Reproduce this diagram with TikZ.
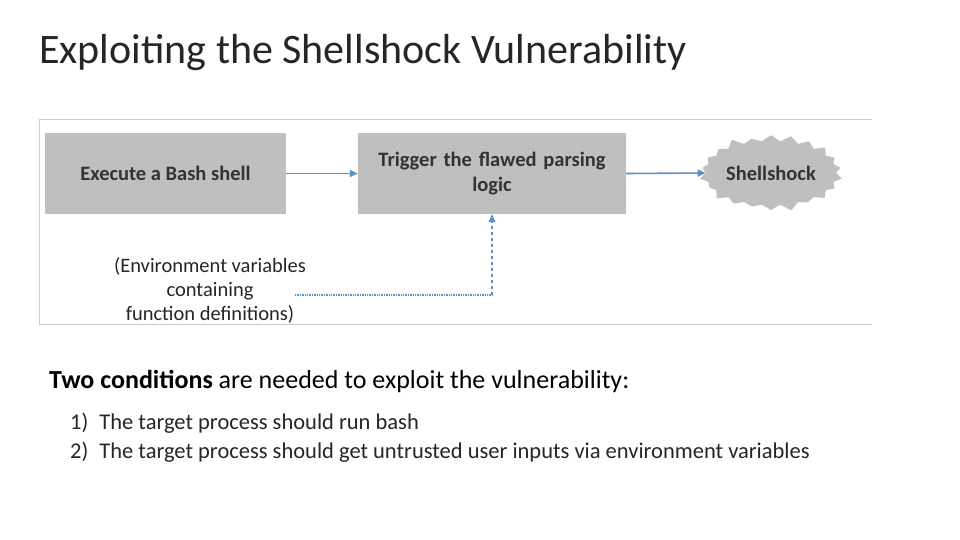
\documentclass[tikz,border=0pt]{standalone}
\usepackage{fontspec}
\setmainfont{Carlito}
\usetikzlibrary{shapes.symbols,arrows.meta}
\definecolor{ablue}{RGB}{91,145,200}
\begin{document}
\begin{tikzpicture}[x=1pt,y=-1pt,
 box/.style={fill=black!25,draw=none,inner sep=0pt,text=black!80,font=\bfseries\fontsize{20.5}{25}\selectfont,align=center},
 arr/.style={draw=ablue,line width=1.6pt,-{Triangle[length=8pt,width=7pt]}}]
\useasboundingbox (0,0) rectangle (960,540);
\fill[white] (0,0) rectangle (960,540);
\node[anchor=west,font=\fontsize{42}{48}\selectfont,text=black!85,inner sep=0pt] (title) at (39,53) {Exploiting the Shellshock Vulnerability};
\draw[black!20,line width=0.8pt] (872,119) -- (39,119) -- (39,324) -- (872,324);
\node[box,minimum width=241pt,minimum height=81pt] (b1) at (165.5,173.5) {Execute a Bash shell};
\node[box,minimum width=268pt,minimum height=81pt,text width=250pt] (b2) at (492,173.5) {Trigger the flawed parsing\\logic};
\node[starburst,starburst points=22,starburst point height=8pt,fill=black!25,draw=none,minimum width=146pt,minimum height=80pt,font=\bfseries\fontsize{20.5}{25}\selectfont,text=black!80,inner sep=0pt] (s) at (771,173) {Shellshock};
\draw[arr] (b1.east) -- (b2.west);
\draw[arr] (b2.east) -- (s.west);
\node[font=\fontsize{20.5}{24}\selectfont,text=black!85,align=center] (env) at (210,290) {(Environment variables\\containing\\function definitions)};
\coordinate (c1) at (295,295);
\coordinate (c2) at (492,295);
\draw[draw=ablue,line width=1.4pt,densely dotted] (c1) -- (c2);
\draw[draw=ablue,line width=1.2pt,dashed,-{Triangle[length=8pt,width=7pt]}] (c2) -- (b2.south);
\node[anchor=west,font=\fontsize{26}{30}\selectfont,text=black,inner sep=0pt] (cond) at (49,381) {\textbf{Two conditions} are needed to exploit the vulnerability:};
\node[anchor=west,font=\fontsize{22.5}{26}\selectfont,text=black!85,inner sep=0pt] (l1) at (70,423) {1)\hspace{11pt}The target process should run bash};
\node[anchor=west,font=\fontsize{22.5}{26}\selectfont,text=black!85,inner sep=0pt] (l2) at (70,452) {2)\hspace{11pt}The target process should get untrusted user inputs via environment variables};
\end{tikzpicture}
\end{document}
